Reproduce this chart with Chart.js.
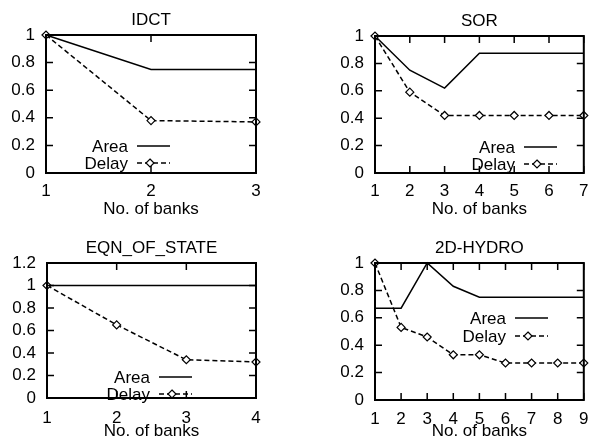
<!DOCTYPE html>
<html>
<head>
<meta charset="utf-8">
<script src="https://cdn.jsdelivr.net/npm/chart.js@4.4.0/dist/chart.umd.min.js"></script>
<style>
body { margin: 0; background: #fff; width: 589px; height: 440px; position: relative; overflow: hidden; }
canvas { position: absolute; }
</style>
</head>
<body>
<canvas id="idct" width="295" height="220" style="left:0;top:0"></canvas>
<canvas id="sor" width="294" height="220" style="left:295px;top:0"></canvas>
<canvas id="eqn" width="295" height="220" style="left:0;top:220px"></canvas>
<canvas id="hydro" width="294" height="220" style="left:295px;top:220px"></canvas>
<script>
// values (normalised to 1 bank)
var idctBanks = [1, 2, 3];
var idctArea = [1, 0.75, 0.75];
var idctDelay = [1, 0.38, 0.37];

var sorBanks = [1, 2, 3, 4, 5, 6, 7];
var sorArea = [1, 0.75, 0.62, 0.875, 0.875, 0.875, 0.875];
var sorDelay = [1, 0.59, 0.42, 0.42, 0.42, 0.42, 0.42];

var eqnBanks = [1, 2, 3, 4];
var eqnArea = [1, 1, 1, 1];
var eqnDelay = [1, 0.65, 0.34, 0.32];

var hydroBanks = [1, 2, 3, 4, 5, 6, 7, 8, 9];
var hydroArea = [0.67, 0.67, 1, 0.83, 0.75, 0.75, 0.75, 0.75, 0.75];
var hydroDelay = [1, 0.53, 0.46, 0.33, 0.33, 0.27, 0.27, 0.27, 0.27];

var seriesNames = ['Area', 'Delay'];

var FONT = '"Liberation Sans", Arial, Helvetica, sans-serif';
var FS = 17;

function pts(xs, ys) {
    return xs.map(function (x, i) { return { x: x, y: ys[i] }; });
}

function diamond(ctx, x, y, r) {
    ctx.beginPath();
    ctx.moveTo(x, y - r);
    ctx.lineTo(x + r, y);
    ctx.lineTo(x, y + r);
    ctx.lineTo(x - r, y);
    ctx.closePath();
    ctx.fillStyle = '#fff';
    ctx.fill();
    ctx.stroke();
}

// gnuplot-ish frame: border, inward ticks on all sides, title and in-plot key
var gnuFrame = {
    id: 'gnuFrame',
    afterDatasetsDraw: function (chart, args, opts) {
        var ctx = chart.ctx, a = chart.chartArea;
        var xs = chart.scales.x, ys = chart.scales.y;
        ctx.save();
        ctx.strokeStyle = '#000';
        ctx.lineWidth = 1.5;
        ctx.beginPath();
        xs.ticks.forEach(function (t) {
            var px = xs.getPixelForValue(t.value);
            ctx.moveTo(px, a.bottom); ctx.lineTo(px, a.bottom - 7);
            ctx.moveTo(px, a.top); ctx.lineTo(px, a.top + 7);
        });
        ys.ticks.forEach(function (t) {
            var py = ys.getPixelForValue(t.value);
            ctx.moveTo(a.left, py); ctx.lineTo(a.left + 7, py);
            ctx.moveTo(a.right, py); ctx.lineTo(a.right - 7, py);
        });
        ctx.stroke();
        ctx.lineWidth = 2;
        ctx.strokeRect(a.left, a.top, a.right - a.left, a.bottom - a.top);

        ctx.fillStyle = '#000';
        ctx.font = FS + 'px ' + FONT;
        ctx.textAlign = 'center';
        ctx.textBaseline = 'alphabetic';
        ctx.fillText(opts.title, (a.left + a.right) / 2, a.top - 10);

        // key
        var k = opts.key;
        var tx = a.left + k.x, y0 = a.top + k.y;
        ctx.textAlign = 'right';
        ctx.textBaseline = 'middle';
        ctx.lineWidth = 1.5;
        seriesNames.forEach(function (name, i) {
            var y = y0 + i * k.gap;
            ctx.fillText(name, tx, y + 1);
            ctx.beginPath();
            ctx.setLineDash(i === 1 ? [5, 3] : []);
            ctx.moveTo(tx + 9, y);
            ctx.lineTo(tx + 42, y);
            ctx.stroke();
            ctx.setLineDash([]);
            if (i === 1) {
                ctx.lineWidth = 1.2;
                diamond(ctx, tx + 22, y, 4);
                ctx.lineWidth = 1.5;
            }
        });
        ctx.restore();
    }
};

function makeChart(id, banks, area, delay, yMax, title, box, key) {
    var ctx = document.getElementById(id).getContext('2d');
    return new Chart(ctx, {
        type: 'line',
        data: {
            datasets: [
                { label: seriesNames[1], data: pts(banks, delay), borderColor: '#000', borderWidth: 1.5,
                  borderDash: [5, 3], pointStyle: 'rectRot', pointRadius: 4,
                  pointBackgroundColor: '#fff', pointBorderColor: '#000', pointBorderWidth: 1.2, tension: 0 },
                { label: seriesNames[0], data: pts(banks, area), borderColor: '#000', borderWidth: 1.5,
                  pointRadius: 0, tension: 0 }
            ]
        },
        options: {
            responsive: false,
            animation: false,
            events: [],
            clip: false,
            layout: { padding: { left: 0, right: box.right, top: box.top, bottom: 0 } },
            scales: {
                x: {
                    type: 'linear',
                    min: banks[0],
                    max: banks[banks.length - 1],
                    grid: { display: false, drawTicks: false },
                    border: { display: false },
                    ticks: { stepSize: 1, autoSkip: false, padding: box.tickPad, color: '#000',
                             font: { family: FONT, size: FS }, maxRotation: 0 },
                    title: { display: true, text: 'No. of banks', color: '#000', font: { family: FONT, size: FS, lineHeight: 1 },
                             padding: { top: 0, bottom: box.titlePad } },
                    afterFit: function (s) { s.height = box.xh; s.paddingLeft = 0; s.paddingRight = 0; }
                },
                y: {
                    min: 0,
                    max: yMax,
                    grid: { display: false, drawTicks: false },
                    border: { display: false },
                    ticks: { stepSize: 0.2, autoSkip: false, padding: 11, color: '#000', font: { family: FONT, size: FS },
                             callback: function (v) { return String(Math.round(v * 10) / 10); } },
                    afterFit: function (s) { s.width = box.yw; s.paddingTop = 0; s.paddingBottom = 0; }
                }
            },
            plugins: {
                legend: { display: false },
                tooltip: { enabled: false },
                gnuFrame: { title: title, key: key }
            }
        },
        plugins: [gnuFrame]
    });
}

makeChart('idct', idctBanks, idctArea, idctDelay, 1, 'IDCT',
    { right: 39, top: 35, xh: 47, yw: 46, tickPad: 8, titlePad: 2 },
    { x: 82, y: 111, gap: 17 });
makeChart('sor', sorBanks, sorArea, sorDelay, 1, 'SOR',
    { right: 5, top: 36, xh: 47, yw: 80, tickPad: 8, titlePad: 2 },
    { x: 140, y: 111, gap: 17 });
makeChart('eqn', eqnBanks, eqnArea, eqnDelay, 1.2, 'EQN_OF_STATE',
    { right: 39, top: 43, xh: 42, yw: 47, tickPad: 10, titlePad: 0 },
    { x: 103, y: 114, gap: 17 });
makeChart('hydro', hydroBanks, hydroArea, hydroDelay, 1, '2D-HYDRO',
    { right: 5, top: 43, xh: 40, yw: 80, tickPad: 9, titlePad: 0 },
    { x: 131, y: 55, gap: 18 });
</script>
</body>
</html>
